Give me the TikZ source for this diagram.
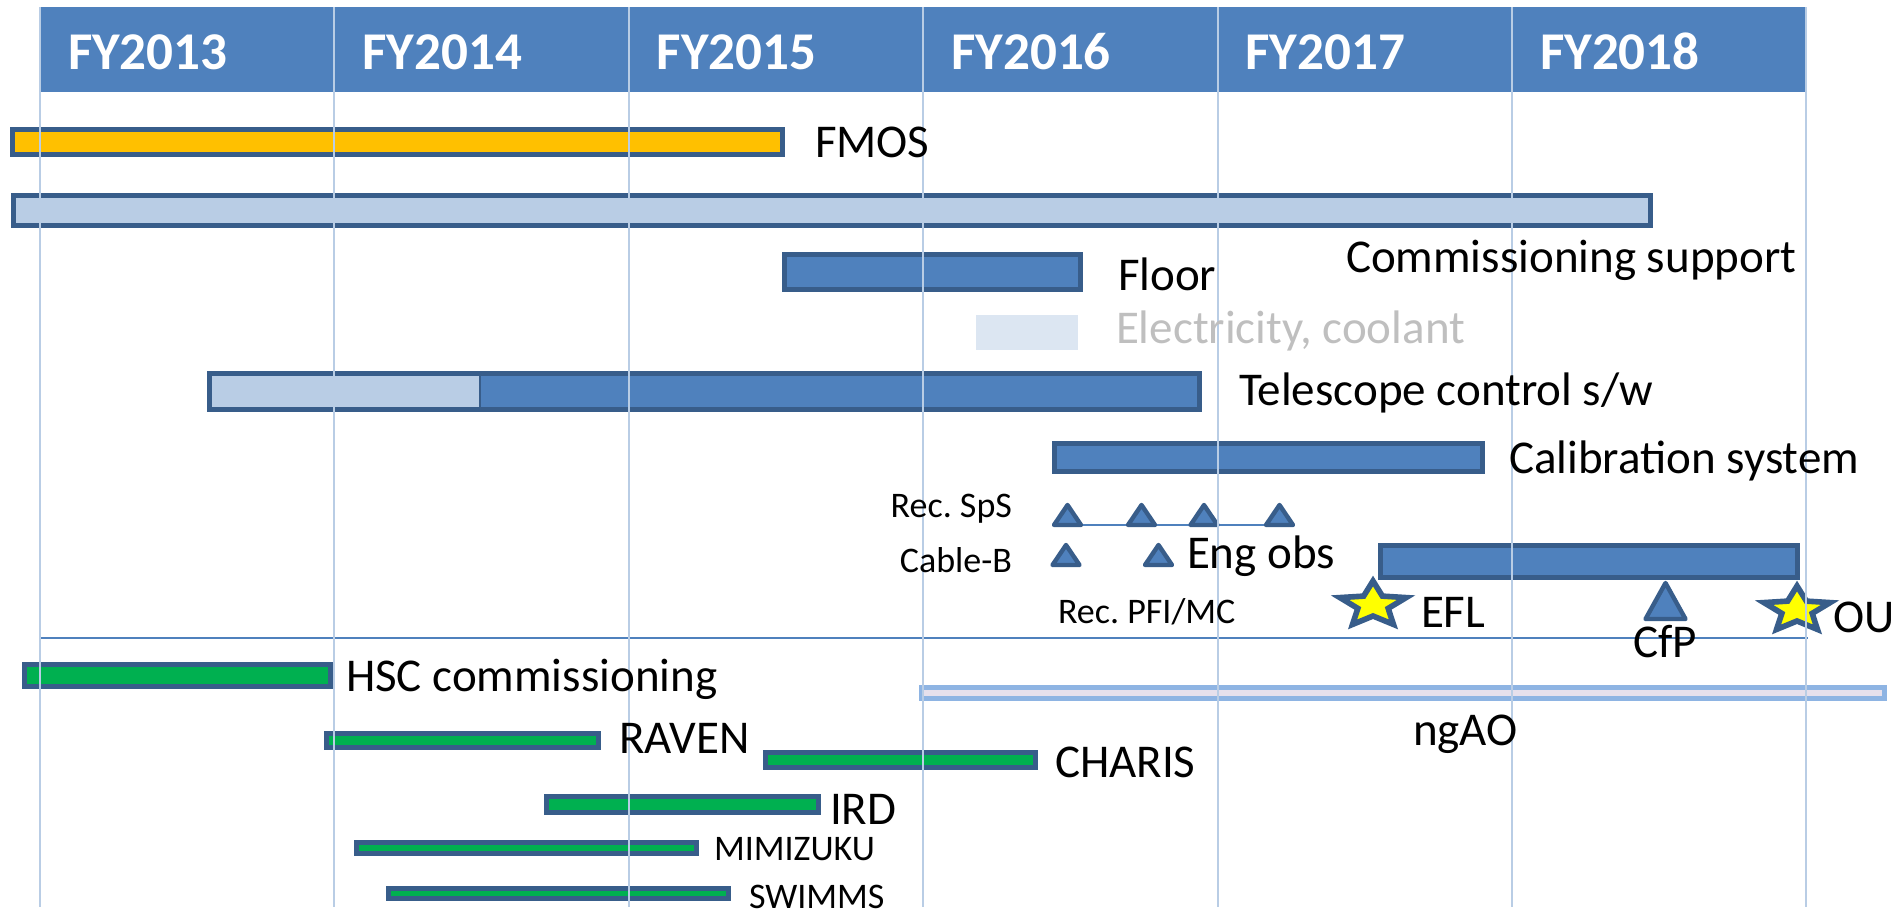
\documentclass[tikz,border=0pt]{standalone}
\usepackage{fontspec}
\setmainfont{Carlito}
\frenchspacing
\definecolor{hdr}{HTML}{4F81BD}
\definecolor{barline}{HTML}{385D8A}
\definecolor{lightbar}{HTML}{B9CDE5}
\definecolor{gridc}{HTML}{B9CDE5}
\definecolor{fmosc}{HTML}{FFC000}
\definecolor{instc}{HTML}{00B050}
\definecolor{elecc}{HTML}{DCE6F2}
\definecolor{electext}{HTML}{BFBFBF}
\definecolor{ngaofill}{HTML}{E6E0EC}
\definecolor{ngaoline}{HTML}{8EB4E3}
\definecolor{staryellow}{HTML}{FFFF00}
\begin{document}
\begin{tikzpicture}[x=0.01cm,y=-0.01cm,
  every node/.style={inner sep=0pt,outer sep=0pt},
  lbl/.style={anchor=base west,font=\fontsize{13.37pt}{16pt}\selectfont},
  smalllbl/.style={anchor=base west,font=\fontsize{10.24pt}{12pt}\selectfont},
  yearlbl/.style={anchor=base west,text=white,font=\fontsize{15.1pt}{18pt}\selectfont\bfseries},
  bar/.style={draw=barline,line width=1.5pt},
  milestone/.style={draw=barline,fill=hdr,line width=1.25pt,line join=round},
  starsty/.style={draw=barline,fill=staryellow,line width=1.6pt,line join=miter},
  gridline/.style={draw=gridc,line width=0.6pt},
  smalltri/.pic={\path[milestone] (-13.5,0) -- (0,-20) -- (13.5,0) -- cycle;},
  bigtri/.pic={\path[milestone] (-20,0) -- (0,-36) -- (20,0) -- cycle;},
  starmark/.pic={\begin{scope}[xscale=1.45]
     \path[starsty] (-90:24) -- (-54:11) -- (-18:24) -- (18:11) -- (54:24)
       -- (90:11) -- (126:24) -- (162:11) -- (198:24) -- (234:11) -- cycle;
     \end{scope}}
]
\useasboundingbox (0,0) rectangle (1891,912);

% year header
\fill[hdr] (40,7) rectangle (1806.4,92);

% bars
\draw[bar,fill=fmosc] (12.7,129.7) rectangle (782.3,154.5);
\draw[bar,fill=lightbar] (13.6,195.6) rectangle (1650.4,225.4);
\draw[bar,fill=hdr] (784.6,254.6) rectangle (1080.4,289.4);
\fill[elecc] (976,315) rectangle (1078,350);
\fill[lightbar] (209.6,373.6) rectangle (480,409.4);
\fill[hdr] (480,373.6) rectangle (1199.4,409.4);
\draw[barline,line width=0.8pt] (480,373.6) -- (480,409.4);
\draw[bar] (209.6,373.6) rectangle (1199.4,409.4);
\draw[bar,fill=hdr] (1054.6,443.6) rectangle (1482.4,471.4);
\draw[bar,fill=hdr] (1380.6,545.6) rectangle (1797.4,577.4);

% instrument bars
\draw[bar,fill=instc] (24.6,664.6) rectangle (330.4,686.4);
\draw[draw=ngaoline,fill=ngaofill,line width=1.5pt] (921.6,687.6) rectangle (1884.4,698.4);
\draw[bar,fill=instc] (326.6,733.6) rectangle (598.4,747.4);
\draw[bar,fill=instc] (765.6,752.6) rectangle (1035.4,767.4);
\draw[bar,fill=instc] (546.6,796.6) rectangle (818.4,812.4);
\draw[bar,fill=instc] (356.6,842.4) rectangle (696.4,853.6);
\draw[bar,fill=instc] (388.6,888.4) rectangle (728.4,898.6);

% milestones
\coordinate (sps1) at (1067.5,525);
\coordinate (sps2) at (1141.5,525);
\coordinate (sps3) at (1204,525);
\coordinate (sps4) at (1279.5,525);
\coordinate (cab1) at (1066,565);
\coordinate (cab2) at (1158.5,565);
\coordinate (cfp) at (1665.5,619);
\coordinate (efl) at (1373,605);
\coordinate (ou) at (1797,610);

\draw[hdr,line width=0.45pt] (sps1) -- (sps4);
\foreach \m in {sps1,sps2,sps3,sps4,cab1,cab2} \pic at (\m) {smalltri};
\pic at (cfp) {bigtri};
\pic at (efl) {starmark};
\pic at (ou) {starmark};

% separator between site work and instruments
\coordinate (sepL) at (39,638);
\coordinate (sepR) at (1808,638);
\draw[hdr,line width=0.6pt] (sepL) -- (sepR);

% fiscal-year grid
\foreach \k in {0,...,6}
  \draw[gridline] ({40+294.4*\k},7) -- ({40+294.4*\k},907);

% year labels
\foreach \k/\yr in {0/2013,1/2014,2/2015,3/2016,4/2017,5/2018}
  \node[yearlbl] (fy\yr) at ({68+294.4*\k},69) {FY\yr};

% labels
\node[lbl] (fmos) at (815,157) {FMOS};
\node[lbl] (comm) at (1346,272) {Commissioning support};
\node[lbl] (floor) at (1118,290) {Floor};
\node[lbl,text=electext] (elec) at (1116,343) {Electricity, coolant};
\node[lbl] (tcs) at (1239,405) {Telescope control s/w};
\node[lbl] (calib) at (1509,473) {Calibration system};
\node[smalllbl,anchor=base east] (recsps) at (1012,517) {Rec. SpS};
\node[smalllbl,anchor=base east] (cableb) at (1012,572) {Cable-B};
\node[lbl] (engobs) at (1187,568) {Eng obs};
\node[smalllbl] (recpfi) at (1058,623) {Rec. PFI/MC};
\node[lbl] (efltxt) at (1421,627) {EFL};
\node[lbl,anchor=base] (cfptxt) at (1665,657) {CfP};
\node[lbl] (outxt) at (1833,632) {OU};
\node[lbl] (hsc) at (346,691) {HSC commissioning};
\node[lbl] (ngao) at (1413,745) {ngAO};
\node[lbl] (raven) at (619,753) {RAVEN};
\node[lbl] (charis) at (1055,777) {CHARIS};
\node[lbl] (ird) at (830,824) {IRD};
\node[smalllbl] (mimizuku) at (714,860) {MIMIZUKU};
\node[smalllbl] (swimms) at (749,908) {SWIMMS};
\end{tikzpicture}
\end{document}
